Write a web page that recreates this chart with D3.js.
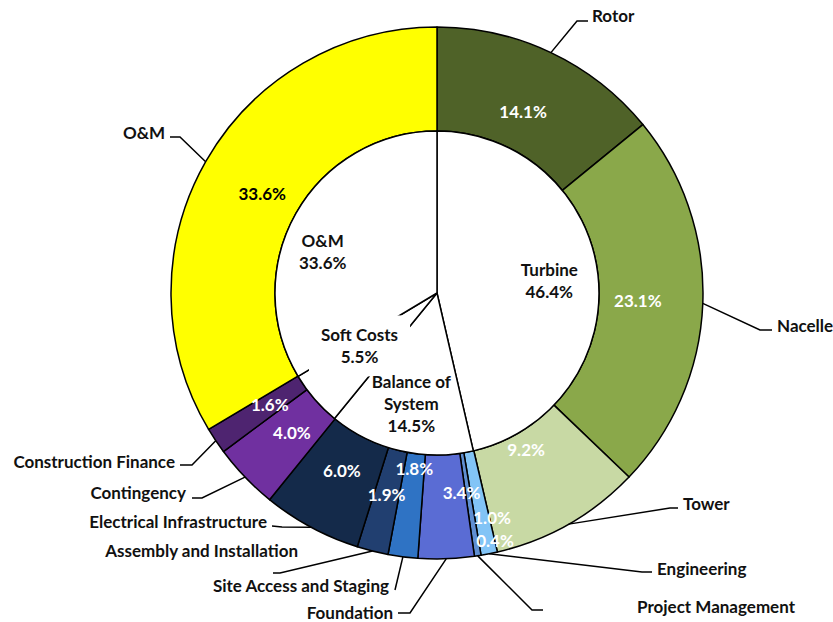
<!DOCTYPE html>
<html>
<head>
<meta charset="utf-8">
<script src="https://cdn.jsdelivr.net/npm/d3@7"></script>
<style>
  html, body { margin: 0; padding: 0; background: #fff; }
  svg text { font-family: Lato, "Open Sans", sans-serif; font-weight: 700; }
</style>
</head>
<body>
<div id="chart"></div>
<script>
// outer ring: cost components (% of LCOE)
const categories = ['Rotor', 'Nacelle', 'Tower', 'Engineering', 'Project Management', 'Foundation',
  'Site Access and Staging', 'Assembly and Installation', 'Electrical Infrastructure',
  'Contingency', 'Construction Finance', 'O&M'];
const shares = [14.1, 23.1, 9.2, 1.0, 0.4, 3.4, 1.8, 1.9, 6.0, 4.0, 1.6, 33.6];
const colors = ['#4f6228', '#8aa84a', '#c8d9a4', '#82c4f6', '#5f8fd2', '#5a6cd4',
  '#2f73c4', '#213f70', '#142a4a', '#7030a0', '#4e2470', '#ffff00'];

// inner pie: groups
const groups = ['Turbine', 'Balance of System', 'Soft Costs', 'O&M'];
const groupShares = [46.4, 14.5, 5.5, 33.6];

document.addEventListener('DOMContentLoaded', () => {
  const width = 833, height = 622;
  const cx = 437, cy = 293, rOuter = 266, rInner = 162;
  const fontSize = 17;

  // label placement tweaks (annotation layout only)
  const pctNudge = {
    'Tower': { r: 180 },
    'Foundation': { a: 173 },
    'Site Access and Staging': { r: 177 },
    'Assembly and Installation': { r: 208 },
    'Engineering': { a: 166.2, r: 231 },
    'Project Management': { a: 166.8, r: 254 }
  };
  const leaders = {
    'Rotor': { elbow: [577, 21], end: [588, 21], label: [592, 15], anchor: 'start' },
    'Nacelle': { elbow: [760, 330], end: [772, 330], label: [777, 325], anchor: 'start' },
    'Tower': { elbow: [670, 508], end: [678, 508], label: [683, 503], anchor: 'start' },
    'Engineering': { elbow: [642, 572], end: [652, 572], label: [657, 568], anchor: 'start' },
    'Project Management': { elbow: [532, 610], end: [543, 610], label: [637, 606], anchor: 'start' },
    'Foundation': { elbow: [410, 613], end: [398, 613], label: [393, 612], anchor: 'end' },
    'Site Access and Staging': { elbow: [395, 590], end: [395, 590], label: [389, 585], anchor: 'end' },
    'Assembly and Installation': { elbow: [280, 573], end: [273, 573], label: [298, 550], anchor: 'end' },
    'Electrical Infrastructure': { elbow: [282, 527], end: [272, 526], label: [267, 521], anchor: 'end' },
    'Contingency': { elbow: [202, 498], end: [192, 498], label: [186, 492], anchor: 'end' },
    'Construction Finance': { elbow: [192, 465], end: [180, 465], label: [175, 461], anchor: 'end' },
    'O&M': { elbow: [180, 137], end: [170, 137], label: [165, 132], anchor: 'end' }
  };
  const innerNudge = {
    'O&M': [-16, 14],
    'Soft Costs': [8, -21],
    'Balance of System': [0, 0]
  };
  const boxed = ['Soft Costs'];

  const svg = d3.select('#chart').append('svg')
    .attr('width', width)
    .attr('height', height);
  svg.append('rect').attr('width', width).attr('height', height).attr('fill', '#fff');

  const g = svg.append('g').attr('transform', `translate(${cx},${cy})`);

  const pie = d3.pie().sort(null).value(d => d.value);
  const outerData = pie(categories.map((c, i) => ({ name: c, value: shares[i], color: colors[i] })));
  const innerData = pie(groups.map((c, i) => ({ name: c, value: groupShares[i] })));

  const ringArc = d3.arc().innerRadius(rInner).outerRadius(rOuter);
  const innerArc = d3.arc().innerRadius(0).outerRadius(rInner);

  g.selectAll('path.seg')
    .data(outerData)
    .enter()
    .append('path')
    .attr('class', 'seg')
    .attr('d', ringArc)
    .attr('fill', d => d.data.color)
    .attr('stroke', '#000')
    .attr('stroke-width', 1.5)
    .attr('stroke-linejoin', 'round');

  g.selectAll('path.grp')
    .data(innerData)
    .enter()
    .append('path')
    .attr('class', 'grp')
    .attr('d', innerArc)
    .attr('fill', '#fff')
    .attr('stroke', '#000')
    .attr('stroke-width', 1.5)
    .attr('stroke-linejoin', 'round');

  const polar = (deg, r) => {
    const a = deg * Math.PI / 180;
    return [Math.sin(a) * r, -Math.cos(a) * r];
  };
  const midDeg = d => (d.startAngle + d.endAngle) / 2 * 180 / Math.PI;
  const fmt = d3.format('.1f');

  // percent labels in the ring
  g.selectAll('text.pct')
    .data(outerData)
    .enter()
    .append('text')
    .attr('class', 'pct')
    .attr('transform', d => {
      const n = pctNudge[d.data.name] || {};
      const p = polar(n.a !== undefined ? n.a : midDeg(d), n.r || 201);
      return `translate(${p[0]},${p[1]})`;
    })
    .attr('text-anchor', 'middle')
    .attr('dominant-baseline', 'central')
    .attr('font-size', fontSize)
    .attr('fill', d => d.data.name === 'O&M' ? '#000' : '#fff')
    .text(d => fmt(d.data.value) + '%');

  // leader lines and category names
  const leaderG = svg.append('g');
  outerData.forEach(d => {
    const L = leaders[d.data.name];
    const p = polar(midDeg(d), rOuter);
    const pts = [[cx + p[0], cy + p[1]], L.elbow, L.end];
    leaderG.append('path')
      .attr('d', d3.line()(pts))
      .attr('fill', 'none')
      .attr('stroke', '#000')
      .attr('stroke-width', 1.5);
    leaderG.append('text')
      .attr('x', L.label[0])
      .attr('y', L.label[1])
      .attr('text-anchor', L.anchor)
      .attr('dominant-baseline', 'central')
      .attr('font-size', fontSize)
      .attr('fill', '#111')
      .text(d.data.name);
  });

  // inner group labels
  const wrap = name => {
    const words = name.split(' ');
    const lines = [];
    let cur = '';
    words.forEach(w => {
      const t = cur ? cur + ' ' + w : w;
      if (t.length > 10 && cur) { lines.push(cur); cur = w; } else { cur = t; }
    });
    lines.push(cur);
    return lines;
  };
  const lineH = 22;
  const boxG = g.append('g');
  const labelG = g.append('g');
  innerData.forEach(d => {
    const lines = wrap(d.data.name).concat([fmt(d.data.value) + '%']);
    const p = polar(midDeg(d), 113);
    const nd = innerNudge[d.data.name] || [0, 0];
    const x = p[0] + nd[0], y = p[1] + nd[1];
    const t = labelG.append('text')
      .attr('transform', `translate(${x},${y})`)
      .attr('text-anchor', 'middle')
      .attr('font-size', fontSize)
      .attr('fill', '#111');
    lines.forEach((s, i) => {
      t.append('tspan')
        .attr('x', 0)
        .attr('y', (i - (lines.length - 1) / 2) * lineH)
        .attr('dominant-baseline', 'central')
        .text(s);
    });
    if (boxed.includes(d.data.name)) {
      const bb = t.node().getBBox();
      boxG.append('rect')
        .attr('x', x + bb.x - 12)
        .attr('y', y + bb.y - 9)
        .attr('width', bb.width + 24)
        .attr('height', bb.height + 18)
        .attr('fill', '#fff');
    }
  });
});
</script>
</body>
</html>
